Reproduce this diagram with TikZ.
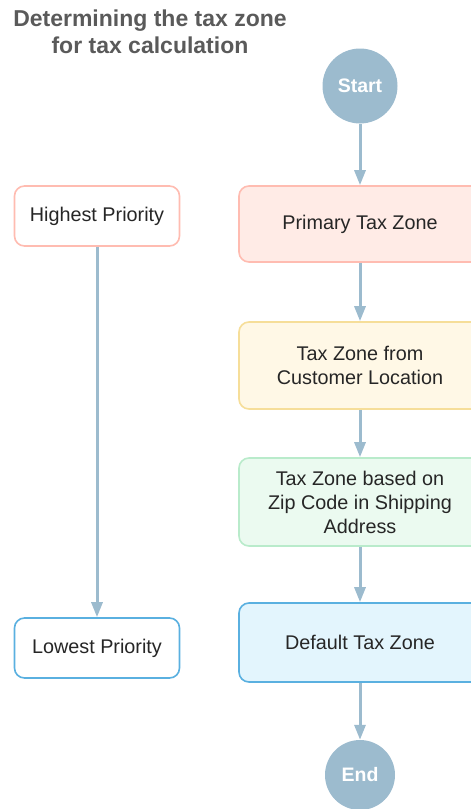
\documentclass[tikz,border=0pt]{standalone}
\usepackage{fontspec}
\setmainfont{Liberation Sans}
\usetikzlibrary{arrows.meta}
\definecolor{flow}{HTML}{9CBBCE}
\definecolor{titlegray}{HTML}{5A5A5A}
\definecolor{redfill}{HTML}{FFEBE6}
\definecolor{redline}{HTML}{FFBCB1}
\definecolor{yellowfill}{HTML}{FFF8E6}
\definecolor{yellowline}{HTML}{F6DE99}
\definecolor{greenfill}{HTML}{EBFAF0}
\definecolor{greenline}{HTML}{B9EBCB}
\definecolor{bluefill}{HTML}{E3F5FD}
\definecolor{blueline}{HTML}{5AB0E0}

\begin{document}
\begin{tikzpicture}[x=1pt, y=-1pt,
    zone/.style={draw, line width=1.6pt, rounded corners=10pt, minimum width=242pt,
      align=center, font=\fontsize{19.8}{24}\selectfont, text=black!85},
    prio/.style={draw, line width=1.6pt, rounded corners=10pt, fill=white,
      minimum width=165pt, minimum height=60pt, font=\fontsize{19.8}{24}\selectfont, text=black!85},
    term/.style={circle, fill=flow, text=white, font=\fontsize{19.5}{22}\bfseries},
    flowarrow/.style={draw=flow, line width=3pt, -{Triangle[width=11pt,length=15pt]}}]
  \useasboundingbox (0,0) rectangle (471,809);

  % Title
  \node[align=center, text=titlegray, font=\fontsize{23}{27}\bfseries] (title) at (150,32)
    {Determining the tax zone\\for tax calculation};

  % Flow on the right
  \node[term, minimum size=75pt] (start) at (360,86) {Start};
  \node[zone, fill=redfill, draw=redline, minimum height=76pt] (primary) at (360,224) {Primary Tax Zone};
  \node[zone, fill=yellowfill, draw=yellowline, minimum height=87pt] (customer) at (360,365.5)
    {Tax Zone from\\Customer Location};
  \node[zone, fill=greenfill, draw=greenline, minimum height=88pt] (zip) at (360,502)
    {Tax Zone based on\\Zip Code in Shipping\\Address};
  \node[zone, fill=bluefill, draw=blueline, minimum height=79pt] (default) at (360,642.5) {Default Tax Zone};
  \node[term, minimum size=70pt] (end) at (360,775) {End};

  % Priority scale on the left
  \node[prio, draw=redline] (high) at (97,216) {Highest Priority};
  \node[prio, draw=blueline] (low) at (97,648) {Lowest Priority};

  % Connectors
  \draw[flowarrow] (start) -- (primary);
  \draw[flowarrow] (primary) -- (customer);
  \draw[flowarrow] (customer) -- (zip);
  \draw[flowarrow] (zip) -- (default);
  \draw[flowarrow] (default) -- (end);
  \draw[flowarrow] (high) -- (low);
\end{tikzpicture}
\end{document}
